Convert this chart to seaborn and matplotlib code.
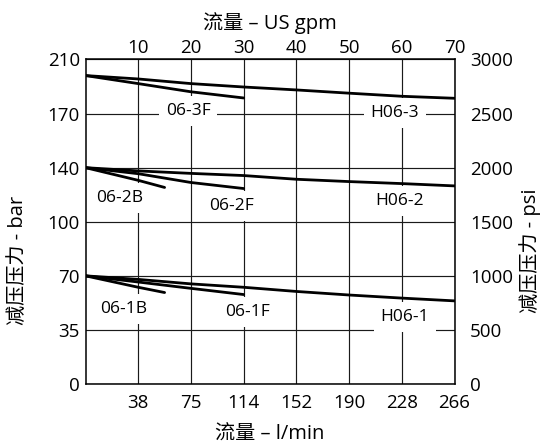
import numpy as np
import pandas as pd
import matplotlib
matplotlib.use("Agg")
import matplotlib.pyplot as plt
import seaborn as sns

# Unit conversions used by the chart's paired axes
LPM_PER_GPM = 3.8
BAR_PER_PSI = 0.07

# Axis ticks
gpm_ticks = [10, 20, 30, 40, 50, 60, 70]
lpm_labels = ["38", "75", "114", "152", "190", "228", "266"]
psi_ticks = [0, 500, 1000, 1500, 2000, 2500, 3000]
bar_labels = ["0", "35", "70", "100", "140", "170", "210"]

# Reduced pressure (bar) vs flow (l/min)
flow_h = [0, 38, 76, 114, 152, 190, 228, 266]
h06_3 = [199.6, 197.4, 194.4, 192.2, 190.3, 188.2, 186.2, 184.9]
h06_2 = [140.0, 137.9, 136.3, 134.9, 132.5, 131.0, 129.7, 128.2]
h06_1 = [70.0, 67.7, 64.8, 62.6, 59.9, 57.6, 55.6, 53.8]

flow_f = [0, 38, 76, 114]
f06_3 = [199.6, 194.4, 189.1, 185.1]
f06_2 = [140.0, 136.1, 130.4, 126.5]
f06_1 = [70.0, 66.0, 61.9, 57.9]

flow_b = [0, 38, 57]
b06_2 = [140.0, 131.8, 127.2]
b06_1 = [70.0, 62.6, 59.2]

# Curve labels and their positions (l/min, bar)
label_names = ["06-3F", "H06-3", "06-2B", "06-2F", "H06-2", "06-1B", "06-1F", "H06-1"]
label_x = [73.9, 223.0, 24.9, 104.9, 226.7, 27.8, 116.4, 230.3]
label_y = [176.9, 175.6, 120.4, 115.3, 118.5, 48.5, 46.5, 43.2]

series = {
    "H06-3": (flow_h, h06_3), "H06-2": (flow_h, h06_2), "H06-1": (flow_h, h06_1),
    "06-3F": (flow_f, f06_3), "06-2F": (flow_f, f06_2), "06-1F": (flow_f, f06_1),
    "06-2B": (flow_b, b06_2), "06-1B": (flow_b, b06_1),
}
df = pd.concat(
    [pd.DataFrame({"model": k, "flow": v[0], "pressure": v[1]}) for k, v in series.items()],
    ignore_index=True,
)

sns.set_theme(style="white")
plt.rcParams["font.family"] = ["Open Sans", "Noto Sans CJK SC"]

fig = plt.figure(figsize=(5.43, 4.47), dpi=100)
ax = fig.add_axes([0.1575, 0.1409, 0.6796, 0.7260])

sns.lineplot(
    data=df, x="flow", y="pressure", hue="model",
    palette=["black"] * len(series), units="model", estimator=None,
    sort=False, linewidth=2.0, legend=False, ax=ax, zorder=4,
)

xmax = 70 * LPM_PER_GPM
ymax = 3000 * BAR_PER_PSI
ax.set_xlim(0, xmax)
ax.set_ylim(0, ymax)

# Bottom axis: l/min
ax.set_xticks([g * LPM_PER_GPM for g in gpm_ticks])
ax.set_xticklabels(lpm_labels)
# Left axis: bar
ax.set_yticks([p * BAR_PER_PSI for p in psi_ticks])
ax.set_yticklabels(bar_labels)
ax.tick_params(axis="x", length=0, pad=7, labelsize=13.5, colors="black")
ax.tick_params(axis="y", length=0, pad=4, labelsize=13.5, colors="black")

ax.grid(True, color="#1a1a1a", linewidth=0.85)
ax.set_axisbelow(True)
for s in ax.spines.values():
    s.set_color("black")
    s.set_linewidth(1.1)

ax.set_xlabel("流量 – l/min", fontsize=14.5, labelpad=9, color="black")
ax.set_ylabel("减压压力 - bar", fontsize=14.5, color="black")
ax.yaxis.set_label_coords(-0.156, 0.38)

# Top axis: US gpm
top = ax.secondary_xaxis("top", functions=(lambda x: x / LPM_PER_GPM, lambda g: g * LPM_PER_GPM))
top.set_xticks(gpm_ticks)
top.tick_params(length=0, pad=2, labelsize=13.5, colors="black")
top.set_xlabel("流量 – US gpm", fontsize=14.5, labelpad=7, color="black")
top.spines["top"].set_visible(False)

# Right axis: psi
right = ax.secondary_yaxis("right", functions=(lambda b: b / BAR_PER_PSI, lambda p: p * BAR_PER_PSI))
right.set_yticks(psi_ticks)
right.tick_params(length=0, pad=11, labelsize=13.5, colors="black")
right.set_ylabel("减压压力 - psi", fontsize=14.5, color="black")
right.yaxis.set_label_coords(1.175, 0.41, transform=ax.transAxes)
right.spines["right"].set_visible(False)

for name, x, y in zip(label_names, label_x, label_y):
    ax.text(x, y, name, ha="center", va="center", fontsize=12.5, color="black",
            bbox=dict(boxstyle="square,pad=0.4", fc="white", ec="none"), zorder=3)

fig.savefig("out.png", dpi=100)
